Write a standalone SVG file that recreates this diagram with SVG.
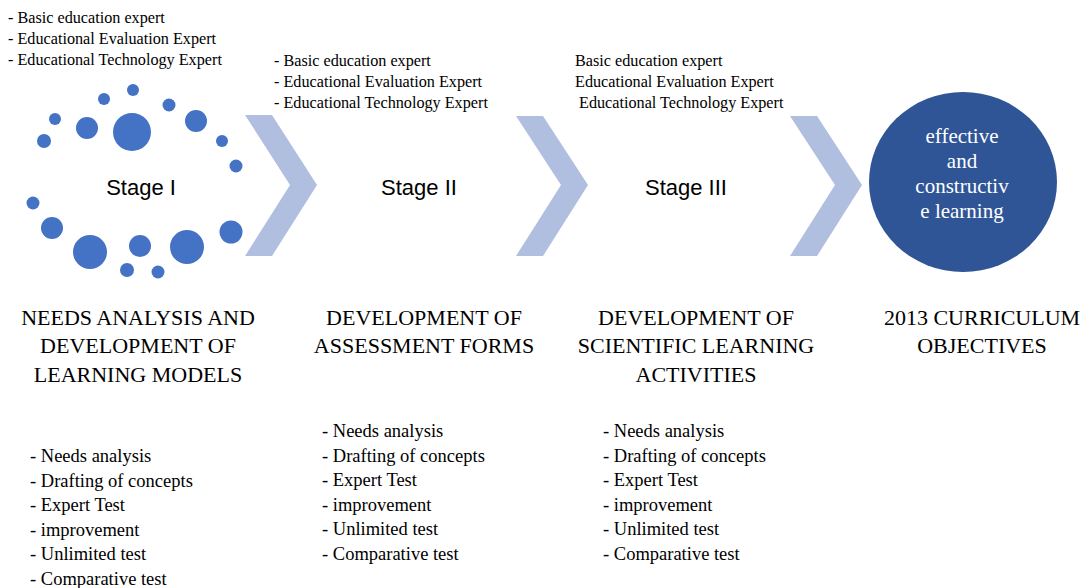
<svg xmlns="http://www.w3.org/2000/svg" width="1088" height="588" viewBox="0 0 1088 588">
<style>
.ex{font-family:"Liberation Serif",serif;font-size:16.2px;fill:#000}
.li{font-family:"Liberation Serif",serif;font-size:18.5px;fill:#000}
.hd{font-family:"Liberation Serif",serif;font-size:22px;fill:#000;text-anchor:middle}
.st{font-family:"Liberation Sans",sans-serif;font-size:22px;fill:#000;text-anchor:middle}
.ct{font-family:"Liberation Serif",serif;font-size:21px;fill:#fff;text-anchor:middle}
.dot{fill:#4472C4}
.chev{fill:#B0BEE0}
</style>
<rect width="1088" height="588" fill="#fff"/>
<g id="connectors">
<polygon class="chev" points="245,115 272,115 317,185 272,256 245,256 290,185"/>
<polygon class="chev" points="516,116 543,116 588,185 543,256 516,256 561,185"/>
<polygon class="chev" points="790,116 817,116 862,185 817,256 790,256 835,185"/>
</g>
<g id="stage1">
<circle class="dot" cx="133" cy="90" r="6"/>
<circle class="dot" cx="104" cy="99" r="6"/>
<circle class="dot" cx="169" cy="105" r="6.5"/>
<circle class="dot" cx="55" cy="119" r="6"/>
<circle class="dot" cx="87" cy="128" r="11"/>
<circle class="dot" cx="132" cy="132" r="19"/>
<circle class="dot" cx="196" cy="121" r="11"/>
<circle class="dot" cx="44" cy="141" r="7"/>
<circle class="dot" cx="222" cy="141" r="6"/>
<circle class="dot" cx="236" cy="166" r="6.5"/>
<circle class="dot" cx="33" cy="203" r="6.5"/>
<circle class="dot" cx="52" cy="228" r="11"/>
<circle class="dot" cx="90" cy="252" r="17"/>
<circle class="dot" cx="140" cy="246" r="11"/>
<circle class="dot" cx="187" cy="247" r="17"/>
<circle class="dot" cx="231" cy="232" r="11.5"/>
<circle class="dot" cx="127" cy="270" r="7"/>
<circle class="dot" cx="158" cy="272" r="6.5"/>
<text class="st" x="141" y="195">Stage I</text>
<text class="ex" x="8" y="23">- Basic education expert</text>
<text class="ex" x="8" y="44">- Educational Evaluation Expert</text>
<text class="ex" x="8" y="65">- Educational Technology Expert</text>
<text class="hd" x="138" y="325">NEEDS ANALYSIS AND</text>
<text class="hd" x="138" y="353">DEVELOPMENT OF</text>
<text class="hd" x="138" y="382">LEARNING MODELS</text>
<text class="li" x="30" y="462">- Needs analysis</text>
<text class="li" x="30" y="486.5">- Drafting of concepts</text>
<text class="li" x="30" y="511">- Expert Test</text>
<text class="li" x="30" y="535.5">- improvement</text>
<text class="li" x="30" y="560">- Unlimited test</text>
<text class="li" x="30" y="584.5">- Comparative test</text>
</g>
<g id="stage2">
<text class="st" x="419" y="195">Stage II</text>
<text class="ex" x="274" y="66">- Basic education expert</text>
<text class="ex" x="274" y="87">- Educational Evaluation Expert</text>
<text class="ex" x="274" y="108">- Educational Technology Expert</text>
<text class="hd" x="424" y="325">DEVELOPMENT OF</text>
<text class="hd" x="424" y="353">ASSESSMENT FORMS</text>
<text class="li" x="322" y="437">- Needs analysis</text>
<text class="li" x="322" y="461.5">- Drafting of concepts</text>
<text class="li" x="322" y="486">- Expert Test</text>
<text class="li" x="322" y="510.5">- improvement</text>
<text class="li" x="322" y="535">- Unlimited test</text>
<text class="li" x="322" y="559.5">- Comparative test</text>
</g>
<g id="stage3">
<text class="st" x="686" y="195">Stage III</text>
<text class="ex" x="575" y="66">Basic education expert</text>
<text class="ex" x="575" y="87">Educational Evaluation Expert</text>
<text class="ex" x="579" y="108">Educational Technology Expert</text>
<text class="hd" x="696" y="325">DEVELOPMENT OF</text>
<text class="hd" x="696" y="353">SCIENTIFIC LEARNING</text>
<text class="hd" x="696" y="382">ACTIVITIES</text>
<text class="li" x="603" y="437">- Needs analysis</text>
<text class="li" x="603" y="461.5">- Drafting of concepts</text>
<text class="li" x="603" y="486">- Expert Test</text>
<text class="li" x="603" y="510.5">- improvement</text>
<text class="li" x="603" y="535">- Unlimited test</text>
<text class="li" x="603" y="559.5">- Comparative test</text>
</g>
<g id="goal">
<ellipse cx="963" cy="182" rx="94" ry="90" fill="#2F5597"/>
<text class="ct" x="962" y="143">effective</text>
<text class="ct" x="962" y="168">and</text>
<text class="ct" x="962" y="193">constructiv</text>
<text class="ct" x="962" y="218">e learning</text>
<text class="hd" x="982" y="325">2013 CURRICULUM</text>
<text class="hd" x="982" y="353">OBJECTIVES</text>
</g>
</svg>
